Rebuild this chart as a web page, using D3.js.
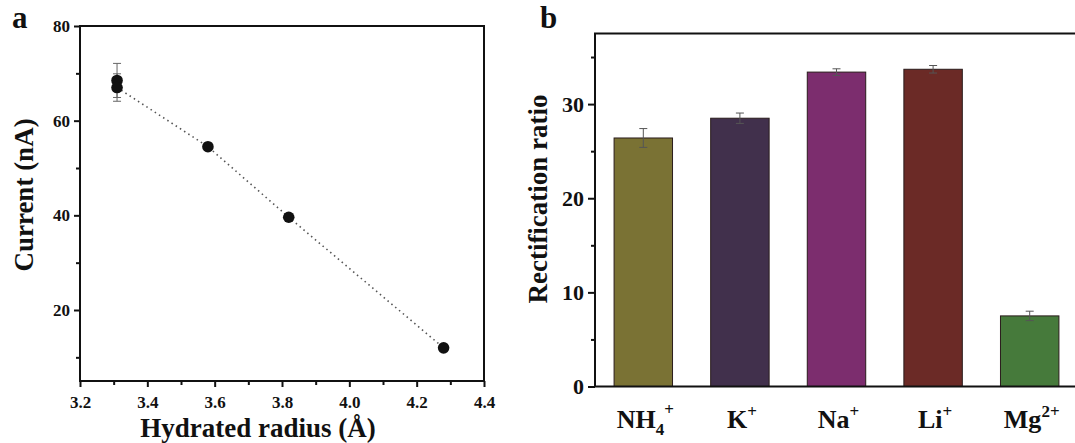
<!DOCTYPE html>
<html>
<head>
<meta charset="utf-8">
<script src="https://cdn.jsdelivr.net/npm/d3@7"></script>
<style>
  body { margin: 0; background: #fff; }
  text { font-family: "Liberation Serif", "Times New Roman", serif; font-weight: bold; fill: #111; }
</style>
</head>
<body>
<svg id="fig" width="1075" height="443"></svg>
<script>
// panel a: current vs hydrated radius
const radius = [3.31, 3.31, 3.58, 3.82, 4.28];
const current = [68.5, 67.0, 54.5, 39.6, 12.0];
const currentErr = [3.6, 2.9, 0, 0, 0];
const fitOrder = [1, 2, 3, 4];   // points joined by the dotted line
const xTicksA = [3.2, 3.4, 3.6, 3.8, 4.0, 4.2, 4.4];
const xMinorA = [3.3, 3.5, 3.7, 3.9, 4.1, 4.3];
const yTicksA = [20, 40, 60, 80];
const yMinorA = [10, 30, 50, 70];

// panel b: rectification ratio per cation
const ions = ["NH4+", "K+", "Na+", "Li+", "Mg2+"];
const ionBase = ["NH", "K", "Na", "Li", "Mg"];
const ionSub = ["4", "", "", "", ""];
const ionSup = ["+", "+", "+", "+", "2+"];
const ratio = [26.4, 28.5, 33.4, 33.7, 7.5];
const ratioErr = [1.0, 0.55, 0.35, 0.4, 0.5];
const barColors = ["#7a7234", "#41304c", "#7c2d6e", "#6b2a26", "#467a3b"];
const yTicksB = [0, 10, 20, 30];
const yMinorB = [5, 15, 25, 35];

const svg = d3.select("#fig");

// shared tick styling
function styleTicks(g, size) {
  g.select(".domain").remove();
  g.selectAll("line").attr("stroke", "#111").attr("stroke-width", 2);
  g.selectAll("text")
    .style("font-size", size + "px")
    .style("font-family", "Liberation Serif")
    .style("font-weight", "bold")
    .attr("fill", "#111");
}

// ---------- panel a ----------
const a = { left: 80, right: 484, top: 26, bottom: 381 };
const xA = d3.scaleLinear().domain([3.2, 4.4]).range([a.left, a.right]);
const yA = d3.scaleLinear().domain([5, 80]).range([a.bottom, a.top]);

const gA = svg.append("g");

gA.append("g")
    .attr("transform", `translate(0,${a.bottom})`)
    .call(d3.axisBottom(xA).tickValues(xTicksA).tickSize(6).tickSizeOuter(0)
      .tickFormat(d3.format(".1f")))
    .call(g => styleTicks(g, 17))
    .call(g => g.selectAll("text").attr("y", 15));
gA.append("g")
    .attr("transform", `translate(0,${a.bottom})`)
    .call(d3.axisBottom(xA).tickValues(xMinorA).tickSize(4).tickFormat(""))
    .call(g => styleTicks(g, 17));

gA.append("g")
    .attr("transform", `translate(${a.left},0)`)
    .call(d3.axisLeft(yA).tickValues(yTicksA).tickSize(6).tickSizeOuter(0))
    .call(g => styleTicks(g, 17))
    .call(g => g.selectAll("text").attr("x", -10));
gA.append("g")
    .attr("transform", `translate(${a.left},0)`)
    .call(d3.axisLeft(yA).tickValues(yMinorA).tickSize(4).tickFormat(""))
    .call(g => styleTicks(g, 17));

gA.append("rect")
    .attr("x", a.left).attr("y", a.top)
    .attr("width", a.right - a.left).attr("height", a.bottom - a.top)
    .attr("fill", "none").attr("stroke", "#111").attr("stroke-width", 2);

// dotted trend line
const line = d3.line().x(i => xA(radius[i])).y(i => yA(current[i]));
gA.append("path")
    .attr("d", line(fitOrder))
    .attr("fill", "none").attr("stroke", "#555")
    .attr("stroke-width", 1.6).attr("stroke-dasharray", "1.5,3.5");

// error bars
const errA = gA.selectAll(".errA").data(radius.map((r, i) => i).filter(i => currentErr[i] > 0))
  .join("g").attr("class", "errA");
errA.append("line")
    .attr("x1", i => xA(radius[i])).attr("x2", i => xA(radius[i]))
    .attr("y1", i => yA(current[i] - currentErr[i])).attr("y2", i => yA(current[i] + currentErr[i]))
    .attr("stroke", "#666").attr("stroke-width", 1);
errA.selectAll(".cap").data(i => [current[i] - currentErr[i], current[i] + currentErr[i]].map(v => [i, v]))
  .join("line")
    .attr("x1", d => xA(radius[d[0]]) - 4).attr("x2", d => xA(radius[d[0]]) + 4)
    .attr("y1", d => yA(d[1])).attr("y2", d => yA(d[1]))
    .attr("stroke", "#666").attr("stroke-width", 1);

gA.selectAll(".pt").data(radius.map((r, i) => i))
  .join("circle")
    .attr("cx", i => xA(radius[i])).attr("cy", i => yA(current[i]))
    .attr("r", 5.8).attr("fill", "#111");

gA.append("text").attr("x", 258).attr("y", 437)
    .attr("text-anchor", "middle").attr("font-size", 27)
    .text("Hydrated radius (Å)");
gA.append("text").attr("transform", "translate(33,195) rotate(-90)")
    .attr("text-anchor", "middle").attr("font-size", 27)
    .text("Current (nA)");
gA.append("text").attr("x", 12).attr("y", 28).attr("font-size", 31).text("a");

// ---------- panel b ----------
const b = { left: 595, right: 1078, top: 33.5, bottom: 386.5 };
const xB = d3.scaleBand().domain(ions).range([b.left, b.right])
    .paddingInner(0.395).paddingOuter(0.1975);
const yB = d3.scaleLinear().domain([0, 37.5]).range([b.bottom, b.top]);

const gB = svg.append("g");

gB.append("g")
    .attr("transform", `translate(${b.left},0)`)
    .call(d3.axisLeft(yB).tickValues(yTicksB).tickSize(7).tickSizeOuter(0))
    .call(g => styleTicks(g, 22))
    .call(g => g.selectAll("text").attr("x", -11));
gB.append("g")
    .attr("transform", `translate(${b.left},0)`)
    .call(d3.axisLeft(yB).tickValues(yMinorB).tickSize(4).tickFormat(""))
    .call(g => styleTicks(g, 22));

gB.selectAll(".bar").data(ions)
  .join("rect")
    .attr("class", "bar")
    .attr("x", d => xB(d)).attr("width", xB.bandwidth())
    .attr("y", (d, i) => yB(ratio[i]))
    .attr("height", (d, i) => yB(0) - yB(ratio[i]))
    .attr("fill", (d, i) => barColors[i])
    .attr("stroke", "#2a1c1c").attr("stroke-width", 1);

const errB = gB.selectAll(".errB").data(ions).join("g").attr("class", "errB");
errB.append("line")
    .attr("x1", d => xB(d) + xB.bandwidth() / 2).attr("x2", d => xB(d) + xB.bandwidth() / 2)
    .attr("y1", (d, i) => yB(ratio[i] - ratioErr[i])).attr("y2", (d, i) => yB(ratio[i] + ratioErr[i]))
    .attr("stroke", "#555").attr("stroke-width", 1);
errB.selectAll(".cap").data((d, i) => [ratio[i] - ratioErr[i], ratio[i] + ratioErr[i]].map(v => [d, v]))
  .join("line")
    .attr("x1", d => xB(d[0]) + xB.bandwidth() / 2 - 4).attr("x2", d => xB(d[0]) + xB.bandwidth() / 2 + 4)
    .attr("y1", d => yB(d[1])).attr("y2", d => yB(d[1]))
    .attr("stroke", "#555").attr("stroke-width", 1);

// frame: left, top, bottom (right edge runs off the page)
gB.append("path")
    .attr("d", `M${b.right},${b.top}H${b.left}V${b.bottom}H${b.right}`)
    .attr("fill", "none").attr("stroke", "#111").attr("stroke-width", 2);

// category labels with sub/superscripts
const lab = gB.selectAll(".cat").data(ions)
  .join("text")
    .attr("class", "cat")
    .attr("x", d => xB(d) + xB.bandwidth() / 2 + 2)
    .attr("y", 428)
    .attr("text-anchor", "middle").attr("font-size", 26);
lab.append("tspan").text((d, i) => ionBase[i]);
lab.append("tspan").attr("font-size", 17).attr("dy", (d, i) => ionSub[i] ? 7 : 0)
    .text((d, i) => ionSub[i]);
lab.append("tspan").attr("font-size", 17)
    .attr("dy", (d, i) => ionSub[i] ? -20 : -11)
    .text((d, i) => ionSup[i]);

gB.append("text").attr("transform", "translate(547,199) rotate(-90)")
    .attr("text-anchor", "middle").attr("font-size", 27)
    .text("Rectification ratio");
gB.append("text").attr("x", 540).attr("y", 28).attr("font-size", 31).text("b");
</script>
</body>
</html>
